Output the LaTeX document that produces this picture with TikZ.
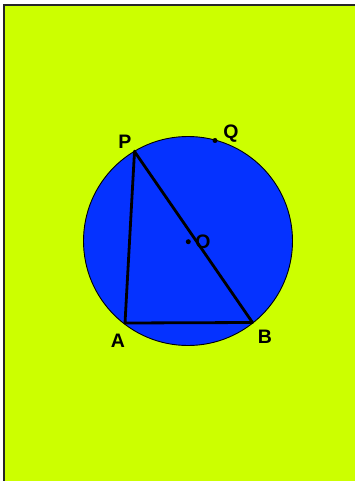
\documentclass[tikz,border=0pt]{standalone}
\usepackage{fontspec}
\setmainfont{Liberation Sans}
\usetikzlibrary{positioning}
\definecolor{bglime}{RGB}{204,255,0}
\definecolor{discblue}{RGB}{5,50,255}

\begin{document}
\begin{tikzpicture}[x=1pt, y=-1pt, font=\fontsize{19.5}{22}\selectfont\bfseries]
    \tikzstyle{lbl} = [inner sep=0pt, text=black]
    \tikzstyle{dot} = [circle, fill=black, inner sep=0pt, minimum size=5pt]
    \tikzstyle{side} = [line width=2.8pt, line join=round]

    \useasboundingbox (0,0) rectangle (355,481);
    \fill[white] (0,0) rectangle (355,481);
    \fill[bglime] (4,5) rectangle (356,482);
    \draw[line width=2pt, black!85] (4,482) -- (4,5) -- (356,5);

    % circle and points on it
    \coordinate (O) at (188,241);
    \draw[fill=discblue, line width=0.9pt] (O) circle (104.5);
    \coordinate (P) at (134.5,151.5);
    \coordinate (A) at (125,323);
    \coordinate (B) at (252.5,322.5);
    \node (q) [dot] at (215,140.5) {};
    \node (o) [dot] at (188.3,241.7) {};

    \draw [side] (P) -- (A) -- (B) -- cycle;
    \node (p) [dot, minimum size=3.5pt] at (P) {};

    \node (labP) [lbl] at (125,142) {P};
    \node (labQ) [lbl] at (231,134) {Q};
    \node (labO) [lbl] at (203,242) {O};
    \node (labA) [lbl] at (118,341) {A};
    \node (labB) [lbl] at (265,337) {B};
\end{tikzpicture}
\end{document}
